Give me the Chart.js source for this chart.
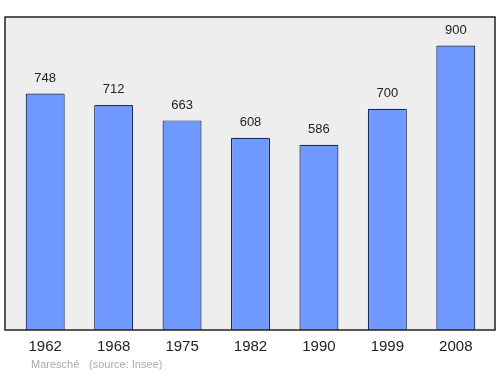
<!DOCTYPE html>
<html>
<head>
<meta charset="utf-8">
<script src="https://cdn.jsdelivr.net/npm/chart.js@4"></script>
<style>
  html, body { margin: 0; padding: 0; background: #fff; }
  #wrap { width: 500px; height: 374px; position: relative; }
</style>
</head>
<body>
<div id="wrap"><canvas id="chart"></canvas></div>
<script>
const years = ['1962', '1968', '1975', '1982', '1990', '1999', '2008'];
const population = [748, 712, 663, 608, 586, 700, 900];
const footerText = ['Maresché', '(source: Insee)'];

// fond gris + cadre autour de la zone de tracé
const frame = {
  id: 'frame',
  beforeDatasetsDraw(chart) {
    const { ctx, chartArea: a } = chart;
    ctx.save();
    ctx.fillStyle = '#eeeeee';
    ctx.fillRect(a.left - 6, a.top, a.right - a.left + 11, a.bottom - a.top);
    ctx.restore();
  },
  afterDatasetsDraw(chart) {
    const { ctx, chartArea: a } = chart;
    ctx.save();
    ctx.strokeStyle = '#222';
    ctx.lineWidth = 1.5;
    ctx.strokeRect(a.left - 6, a.top, a.right - a.left + 11, a.bottom - a.top);

    // valeurs au-dessus des barres
    ctx.fillStyle = '#222';
    ctx.font = '13px "Liberation Sans", Arial, sans-serif';
    ctx.textAlign = 'center';
    ctx.textBaseline = 'middle';
    chart.getDatasetMeta(0).data.forEach((bar, i) => {
      ctx.fillText(population[i], bar.x, bar.y - 15);
    });

    // source
    ctx.fillStyle = '#aaaaaa';
    ctx.font = '11px "Liberation Sans", Arial, sans-serif';
    ctx.textAlign = 'left';
    ctx.fillText(footerText[0], 31, 365);
    ctx.fillText(footerText[1], 89, 365);
    ctx.restore();
  }
};

new Chart(document.getElementById('chart'), {
  type: 'bar',
  data: {
    labels: years,
    datasets: [{
      data: population,
      backgroundColor: '#7099ff',
      borderColor: '#1a2a5a',
      borderWidth: 1.2,
      borderRadius: 1,
      barPercentage: 0.57,
      categoryPercentage: 1
    }]
  },
  options: {
    responsive: true,
    maintainAspectRatio: false,
    animation: false,
    layout: { padding: { top: 17, left: 11, right: 10, bottom: 18 } },
    plugins: { legend: { display: false }, tooltip: { enabled: false } },
    scales: {
      x: {
        grid: { display: false },
        border: { display: false },
        ticks: { color: '#222', font: { size: 15, family: '"Liberation Sans", Arial, sans-serif' }, padding: 0, maxRotation: 0 }
      },
      y: { display: false, min: 0, max: 990 }
    }
  },
  plugins: [frame]
});
</script>
</body>
</html>
